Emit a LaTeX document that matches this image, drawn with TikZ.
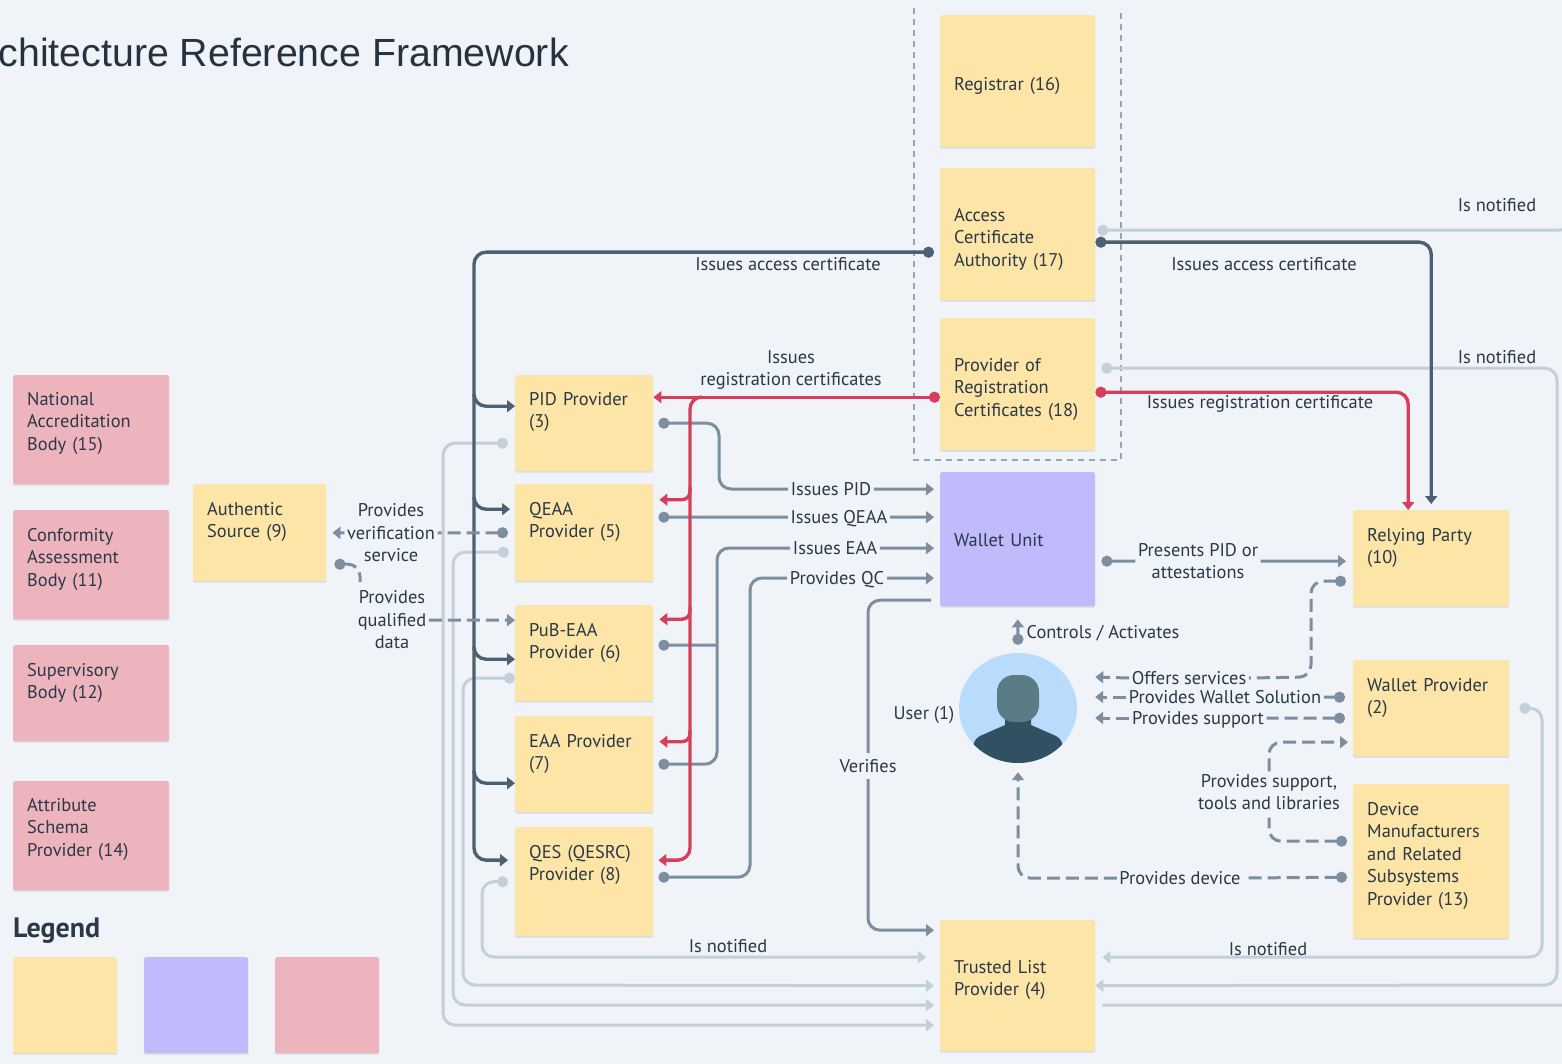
\documentclass[tikz,border=0pt]{standalone}
\usepackage{fontspec}
\setmainfont{PT Sans}
\newfontfamily\titlefont{Liberation Sans}
\usetikzlibrary{arrows.meta,shadows,shapes.geometric}
\definecolor{pagebg}{HTML}{F0F4F8}
\definecolor{ink}{HTML}{2A3847}
\definecolor{ocher}{HTML}{FCE5A6}
\definecolor{lilac}{HTML}{C1BAFC}
\definecolor{rose}{HTML}{EEB4BE}
\definecolor{slate}{HTML}{4C6073}
\definecolor{steel}{HTML}{7D8EA0}
\definecolor{mist}{HTML}{C3D0DC}
\definecolor{signal}{HTML}{D63F5B}
\definecolor{skyface}{HTML}{B9DCFD}
\definecolor{headtone}{HTML}{5B7C85}
\definecolor{bodytone}{HTML}{315163}
\tikzset{
  every node/.style={font=\fontsize{18.4}{22.5}\selectfont,text=ink},
  sticky/.style 2 args={anchor=north west,inner xsep=14pt,inner ysep=0pt,align=left,rounded corners=1.5pt,
    text width=#1-28,minimum height=#2,
    drop shadow={shadow xshift=0pt,shadow yshift=-1.5pt,opacity=0.1,fill=black}},
  lbl/.style={inner sep=2.5pt,align=center},
  lblone/.style={lbl,text height=17pt,text depth=4pt},
  darkline/.style={line width=3.4pt,draw=slate,rounded corners=12pt},
  midline/.style={line width=3pt,draw=steel,rounded corners=12pt},
  lightline/.style={line width=3pt,draw=mist,rounded corners=12pt},
  redline/.style={line width=3.4pt,draw=signal,rounded corners=12pt},
  dashline/.style={midline,dash pattern=on 13pt off 6pt},
  dotarrow/.style={{Circle[length=11pt]}->},
  dotline/.style={{Circle[length=11pt]}-}
}
\begin{document}
\begin{tikzpicture}[x=1pt,y=-1pt,>={Triangle[length=8pt,width=12pt]}]
\useasboundingbox (0,0) rectangle (1562,1064);
\fill [pagebg] (0,0) rectangle (1562,1064);
\node [anchor=east,inner sep=0pt,text=ink!90!black,font=\titlefont\fontsize{39.3}{44}\selectfont] (heading) at (569,52) {chitecture Reference Framework};
\draw [line width=1.2pt,draw=steel!80,dash pattern=on 6pt off 5pt] (914,8)--(914,460)--(1121,460)--(1121,8);
\node [sticky={156}{109},fill=rose,text depth=62pt] (nab) at (13,375) {National\\Accreditation\\Body (15)};
\node [sticky={156}{109},fill=rose,text depth=60pt] (cab) at (13,510) {Conformity\\Assessment\\Body (11)};
\node [sticky={156}{96},fill=rose,text depth=47pt] (sb) at (13,645) {Supervisory\\Body (12)};
\node [sticky={156}{109},fill=rose,text depth=62pt] (asp) at (13,781) {Attribute\\Schema\\Provider (14)};
\node [sticky={133}{97},fill=ocher,text depth=48pt] (auth) at (193,484) {Authentic\\Source (9)};
\node [sticky={138}{96},fill=ocher,text depth=49pt] (pid) at (515,375) {PID Provider\\(3)};
\node [sticky={138}{97},fill=ocher,text depth=48pt] (qeaa) at (515,484) {QEAA\\Provider (5)};
\node [sticky={138}{96},fill=ocher,text depth=47pt] (pub) at (515,605) {PuB-EAA\\Provider (6)};
\node [sticky={138}{96},fill=ocher,text depth=47pt] (eaa) at (515,716) {EAA Provider\\(7)};
\node [sticky={138}{109},fill=ocher,text depth=60pt] (qes) at (515,827) {QES (QESRC)\\Provider (8)};
\node [sticky={155}{132},fill=ocher,text height=22pt] (reg) at (940,15) {Registrar (16)};
\node [sticky={155}{132},fill=ocher,text depth=39pt] (access) at (940,168) {Access\\Certificate\\Authority (17)};
\node [sticky={155}{132},fill=ocher,text depth=39pt] (prov) at (940,318) {Provider of\\Registration\\Certificates (18)};
\node [sticky={155}{134},fill=lilac,text height=15pt] (wallet) at (940,472) {Wallet Unit};
\node [sticky={155}{131},fill=ocher,text depth=38pt] (tl) at (940,920) {Trusted List\\Provider (4)};
\node [sticky={156}{96},fill=ocher,text depth=47pt] (rp) at (1353,510) {Relying Party\\(10)};
\node [sticky={156}{96},fill=ocher,text depth=47pt] (wp) at (1353,660) {Wallet Provider\\(2)};
\node [sticky={156}{154},fill=ocher,text depth=105pt] (dev) at (1353,784) {Device\\Manufacturers\\and Related\\Subsystems\\Provider (13)};
\node [anchor=west,inner sep=0pt,font=\bfseries\fontsize{28}{30}\selectfont] (legend) at (13,931) {Legend};
\node [sticky={104}{96},fill=ocher] (legA) at (13,957) {};
\node [sticky={104}{96},fill=lilac] (legB) at (144,957) {};
\node [sticky={104}{96},fill=rose] (legC) at (275,957) {};
\node [ellipse,fill=skyface,minimum width=118pt,minimum height=110pt,inner sep=0pt] (user) at (1018,708) {};
\begin{scope}
\clip (user.center) ellipse (59pt and 55pt);
\fill [bodytone] (1005,712) -- (1031,712) -- (1031,725) -- (1056,736) .. controls (1063,740) and (1064,745) .. (1064,770) -- (972,770) .. controls (972,745) and (973,740) .. (980,736) -- (1005,725) -- cycle;
\fill [headtone,rounded corners=17pt] (997,675) rectangle (1039,722);
\end{scope}
\node [lblone,anchor=east] (lblUser) at (957,713) {User (1)};
\node [lblone] (lblPid) at (831,489) {Issues PID};
\node [lblone] (lblQeaa) at (839,517) {Issues QEAA};
\node [lblone] (lblEaa) at (835,548) {Issues EAA};
\node [lblone] (lblQc) at (837,578) {Provides QC};
\node [lblone] (lblVerifies) at (868,766) {Verifies};
\node [lblone] (lblAccessL) at (788,264) {Issues access certificate};
\node [lblone] (lblAccessR) at (1264,264) {Issues access certificate};
\node [lbl] (lblRegL) at (791,370) {Issues\\registration certificates};
\node [lblone] (lblRegR) at (1260,402) {Issues registration certificate};
\node [lblone] (lblNotA) at (1497,205) {Is notified};
\node [lblone] (lblNotB) at (1497,357) {Is notified};
\node [lblone] (lblNotC) at (728,946) {Is notified};
\node [lblone] (lblNotD) at (1268,949) {Is notified};
\node [lbl] (lblPres) at (1198,561) {Presents PID or\\attestations};
\node [lblone] (lblCtrl) at (1103,632) {Controls / Activates};
\node [lblone] (lblOffers) at (1189,678) {Offers services};
\node [lblone] (lblSol) at (1225,697) {Provides Wallet Solution};
\node [lblone] (lblSup) at (1198,718) {Provides support};
\node [lbl] (lblTools) at (1269,792) {Provides support,\\tools and libraries};
\node [lblone] (lblDev) at (1180,878) {Provides device};
\node [lbl] (lblVerif) at (391,533) {Provides\\verification\\service};
\node [lbl] (lblQual) at (392,620) {Provides\\qualified\\data};
\draw [lightline,dotarrow] ([xshift=-7,yshift=-20]pid.west) -| (443,1025) -- ([xshift=-6,yshift=-39.5]tl.west);
\draw [lightline,dotarrow] ([xshift=-6,yshift=-19.5]qeaa.west) -| (453,1005) -- ([xshift=-6,yshift=-19.5]tl.west);
\draw [lightline,dotarrow] ([yshift=-25]pub.west) -| (463,985) -- ([xshift=-6]tl.west);
\draw [lightline,dotarrow] ([xshift=-7]qes.west) -| (482,957) -- ([xshift=-14,yshift=28.5]tl.west);
\coordinate (edgeA) at (1562,230);
\coordinate (edgeB) at (1562,1005);
\draw [lightline,dotline] ([xshift=2,yshift=4]access.east) -- (edgeA);
\draw [lightline,dotarrow] ([xshift=6,yshift=16]prov.east) -| (1557,985) -- (tl.east);
\draw [lightline,dotarrow] ([xshift=10]wp.east) -| (1542,957) -- ([xshift=7,yshift=28.5]tl.east);
\draw [lightline] ([xshift=7,yshift=-19.5]tl.east) -- (edgeB);
\draw [darkline,dotarrow] ([xshift=-6,yshift=-18]access.west) -| (474,860) -- ([xshift=-7,yshift=21.5]qes.west);
\draw [darkline,->] (474,396) |- ([yshift=17]pid.west);
\draw [darkline,->] (474,499) |- ([xshift=-5,yshift=23.5]qeaa.west);
\draw [darkline,->] (474,649) |- ([yshift=-6]pub.west);
\draw [darkline,->] (474,773) |- ([yshift=-19]eaa.west);
\draw [darkline,dotarrow] ([yshift=-8]access.east) -| ([yshift=6]rp.north);
\draw [midline,dotline] ([xshift=5]pid.east) -| (719,489) -- (lblPid.west);
\draw [midline,->] (lblPid.east) -- ([xshift=-6,yshift=50]wallet.west);
\draw [midline,dotline] ([xshift=5,yshift=15.5]qeaa.east) -- (lblQeaa.west);
\draw [midline,->] (lblQeaa.east) -- ([xshift=-6,yshift=22]wallet.west);
\draw [midline,dotline] ([xshift=5]eaa.east) -| (717,548) -- (lblEaa.west);
\draw [midline,dotline] ([xshift=5,yshift=8]pub.east) -- (717,645);
\draw [midline,->] (lblEaa.east) -- ([xshift=-6,yshift=-9]wallet.west);
\draw [midline,dotline] ([xshift=5,yshift=4.5]qes.east) -| (750,578) -- (lblQc.west);
\draw [midline,->] (lblQc.east) -- ([xshift=-6,yshift=-39]wallet.west);
\draw [midline] ([xshift=-9,yshift=-61]wallet.west) -| (lblVerifies.north);
\draw [midline,->] (lblVerifies.south) |- ([xshift=-6,yshift=55.5]tl.west);
\draw [midline,dotline] ([xshift=6,yshift=-22]wallet.east) -- (lblPres.west);
\draw [midline,->] (lblPres.east) -- ([xshift=-7,yshift=-3]rp.west);
\draw [midline,dotarrow] ([yshift=8]user.north) -- ([yshift=-13]wallet.south);
\draw [redline,dotarrow] ([yshift=-13]prov.west) -- ([yshift=26]pid.east);
\draw [redline,->] (702,397) -| (690,860) -- ([xshift=5,yshift=21.5]qes.east);
\draw [redline,->,rounded corners=8pt] (690,487) |- ([xshift=6,yshift=33]qeaa.east);
\draw [redline,->,rounded corners=8pt] (690,607) |- ([xshift=6,yshift=34]pub.east);
\draw [redline,->,rounded corners=8pt] (690,730) |- ([xshift=6,yshift=22.5]eaa.east);
\draw [redline,dotarrow] ([yshift=-8]prov.east) -| ([xshift=-23]rp.north);
\draw [dashline,dotline] ([xshift=-7]qeaa.west) -- (lblVerif.east);
\draw [dashline,->] (lblVerif.west) -- ([xshift=6]auth.east);
\draw [dashline,dotline] ([xshift=8,yshift=-31.5]auth.east) -| ([xshift=-32,yshift=6]lblQual.north);
\draw [dashline,->] (lblQual.east) -- ([yshift=33]pub.west);
\draw [dashline,dotline] ([xshift=-7,yshift=-23]rp.west) -| (1311,677) -- (lblOffers.east);
\draw [dashline,->] (lblOffers.west) -- ([xshift=18,yshift=31]user.east);
\draw [dashline,dotline] ([xshift=-8,yshift=11]wp.west) -- (lblSol.east);
\draw [dashline,->] (lblSol.west) -- ([xshift=18,yshift=11]user.east);
\draw [dashline,dotline] ([xshift=-8,yshift=-10]wp.west) -- (lblSup.east);
\draw [dashline,->] (lblSup.west) -- ([xshift=18,yshift=-10]user.east);
\draw [dashline,dotline,shorten >=5pt] ([xshift=-6,yshift=20]dev.west) -| (lblTools.south);
\draw [dashline,->] (lblTools.north) |- ([xshift=-5,yshift=-34]wp.west);
\draw [dashline,dotline] ([xshift=-6,yshift=-16]dev.west) -- (lblDev.east);
\draw [dashline,->] (lblDev.west) -| ([yshift=-9]user.south);
\end{tikzpicture}
\end{document}
